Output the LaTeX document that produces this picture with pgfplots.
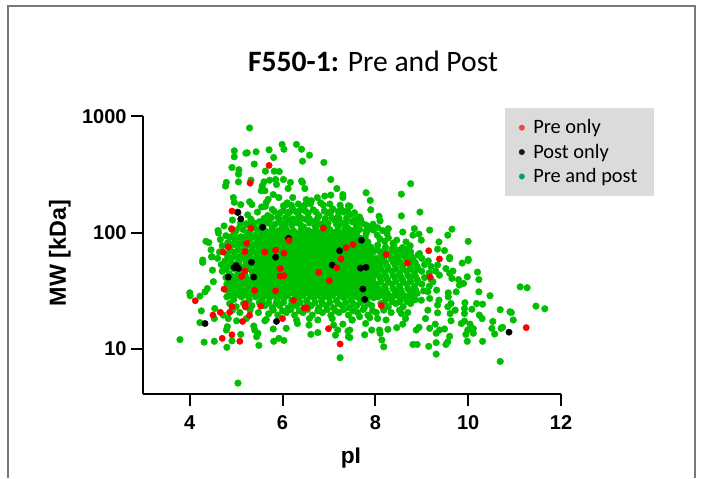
\documentclass[border=0pt]{standalone}
\usepackage{pgfplots}
\pgfplotsset{compat=1.18}
\usepackage{fontspec}
\setmainfont{Liberation Sans}
\newfontfamily\carlito{Carlito}
\definecolor{ptgreen}{RGB}{0,190,0}
\definecolor{ptred}{RGB}{255,0,0}
\definecolor{lgred}{RGB}{240,70,60}
\definecolor{lggreen}{RGB}{0,166,90}
\definecolor{lgbox}{RGB}{219,219,219}
\definecolor{framecol}{RGB}{120,120,120}
\begin{document}
\begin{tikzpicture}
\path[use as bounding box] (0pt,0pt) rectangle (526.5pt,358.5pt);
\draw[framecol,line width=0.9pt] (6pt,0pt) -- (6pt,354pt) -- (521.25pt,354pt) -- (521.25pt,0pt);
\begin{axis}[
  at={(107.475pt,62.775pt)},anchor=south west,
  scale only axis,width=313.3pt,height=208.5pt,
  ymode=log,xmin=3,xmax=12,ymin=4.06,ymax=1000,
  axis x line=bottom,axis y line=left,
  axis line style={-,line width=1.5pt,black},
  xtick={4,6,8,10,12},ytick={10,100,1000},
  yticklabels={10,100,1000},
  log ticks with fixed point,
  tick style={line width=1.5pt,black},
  major tick length=9pt,minor tick length=0pt,
  tick align=outside,
  x tick label style={font=\bfseries\fontsize{15}{17}\selectfont},
  y tick label style={font=\bfseries\fontsize{15}{17}\selectfont},
  /pgf/number format/assume math mode=true,
  xticklabel style={yshift=-3.5pt},
  xlabel={\bfseries\fontsize{17}{19}\selectfont pI},
  ylabel={\bfseries\fontsize{17.5}{19}\selectfont MW [kDa]},
  xlabel style={at={(axis description cs:0.497,-0.229)},anchor=center},
  ylabel style={at={(axis description cs:-0.2,0.508)},anchor=center,rotate=0},
  title={{\carlito\fontsize{22.2}{24}\selectfont\textbf{F550-1:} Pre and Post}},
  title style={at={(axis description cs:0.55,1.17)},anchor=center},
  legend style={at={(axis description cs:0.866,1.03)},anchor=north west,draw=none,fill=lgbox,
    font=\carlito\fontsize{15.3}{18}\selectfont,row sep=2.2pt,inner xsep=10.3pt,inner ysep=6.5pt},
  legend cell align=left,
  clip=false,
]
\addlegendimage{only marks,mark=*,mark size=2.1pt,color=lgred,mark options={line width=0.2pt}}
\addlegendentry{\hspace{4.5pt}Pre only}
\addlegendimage{only marks,mark=*,mark size=2.1pt,color=black!90,mark options={line width=0.2pt}}
\addlegendentry{\hspace{4.5pt}Post only}
\addlegendimage{only marks,mark=*,mark size=2.1pt,color=lggreen,mark options={line width=0.2pt}}
\addlegendentry{\hspace{4.5pt}Pre and post}
% pre and post: sparse outer points
\addplot[forget plot,only marks,mark=*,mark size=2.5pt,color=ptgreen,mark options={line width=0.3pt}] coordinates {
(5.29,794)(5.99,573)(6.03,521)(6.30,573)(6.41,521)(6.58,463)(4.96,505)(4.96,448)(5.21,482)(5.24,485)(5.43,495)(5.71,515)(5.81,442)(6.43,411)(5.39,388)(6.89,401)(4.91,363)(5.06,347)(5.05,318)(5.63,337)(5.82,337)(5.93,335)(7.04,286)(4.79,270)(4.77,251)(5.05,273)(5.32,282)(5.60,273)(5.56,251)(5.72,282)(5.85,286)(6.02,286)(5.87,259)(6.17,270)(6.12,239)(6.41,278)(6.43,270)(6.48,239)(7.17,239)(5.54,229)(5.62,229)(5.80,212)(5.92,200)(6.22,200)(6.91,206)(7.04,210)(7.30,212)(7.30,200)(4.94,200)(4.96,182)(5.10,174)(5.29,184)(5.34,174)(5.69,193)(5.65,182)(5.63,168)(6.51,192)(6.62,188)(6.75,200)(6.49,174)(6.08,174)(6.19,172)(7.27,158)(7.42,170)
(4.35,84)(4.41,82)(4.61,104)(4.46,71)(4.48,62)(4.28,58)
(8.76,263)(8.56,214)(7.80,220)(7.89,189)(7.90,157)(8.96,150)(8.56,139)(8.08,138)(8.10,126)(9.65,107)(9.17,105)(9.56,95)(8.84,108)(8.81,95)(8.94,97)(8.99,86)(8.59,101)(8.66,83)(9.37,83)(9.34,72)(10.0,84)(9.49,70)(7.84,113)(7.66,136)(7.59,116)(8.16,104)(8.25,98)(7.80,98)(8.38,81)(8.45,71)(8.68,72)(8.95,66)(9.6,61)(10.0,59)(7.45,168)
(10.0,57.5)(9.87,54.6)(9.60,59.4)(9.34,52.5)(9.52,49)(9.67,46.6)(9.60,44.5)(10.2,45.7)(9.98,41.6)(10.23,39.4)(9.79,39.4)(9.90,36.5)(9.81,35.3)(9.65,40.3)(9.38,43)(11.12,34.1)(11.27,33.5)(10.23,30.9)(10.47,28.6)(9.74,30.9)(9.57,30.3)(9.57,28)(9.24,37.7)(9.32,32)(9.13,31)(8.99,26.2)(8.82,26.2)(9.17,27.1)(9.37,26.2)(9.34,23.8)(9.93,24.9)(10.18,24.5)(10.31,24.2)(9.92,22.2)(10.08,21.9)(9.92,20.1)(11.46,23.3)(11.65,22.1)(10.69,21.7)(10.9,20.8)(10.93,20.5)(10.24,19.5)(10.3,18.2)(10.97,17.7)(10.53,17.2)(10.74,15.3)(10.71,15)(10.51,15)(10.57,13.4)(10.69,7.78)(10.31,11.6)(10.11,13.6)(10.11,14.9)(9.99,14.5)(9.95,13.3)(9.98,11.6)(9.85,16.5)(9.92,17.3)(10.04,16.3)(9.63,17.4)(9.49,14.8)(9.6,12.8)(9.56,11.5)(9.52,10.9)(9.31,11.3)(9.31,9.0)(9.15,10.5)(8.9,10.9)(8.81,10.9)(9.31,13.6)(9.38,14.5)(9.29,16.3)(9.17,15)(9.08,18.2)(8.94,15.3)(8.88,14.5)(9.13,21.5)(9.34,20.4)(9.61,20.1)(9.56,23)(9.72,21.5)(9.63,24.5)(8.46,15.2)(8.59,16.3)(8.65,18.2)(8.56,20.1)(8.27,14.7)(8.09,14.5)(7.92,14.5)(7.77,13.2)(8.14,11.9)(8.18,10.4)(8.10,13.6)(8.23,17.7)(8.05,18.2)(7.88,18.5)(7.79,16.5)(7.50,17.7)(7.66,18.9)(7.45,14.5)(7.45,12.5)
(3.79,12.0)(5.04,5.07)(4.31,11.4)(4.53,11.6)(4.80,10.3)(4.91,11.7)(5.10,13.3)(5.49,10.7)(5.44,12.7)(5.47,13.6)(5.81,11.6)(5.92,12.3)(6.03,11.8)(4.81,15.5)(4.79,14.5)(5.38,15.7)(5.40,14.5)(5.80,14.8)(6.08,15)(6.61,13.3)(6.76,13.8)(7.14,13.1)(7.41,14.2)(7.42,12.7)(7.24,8.38)(4.22,16.8)(4.25,21.2)(4.0,30.3)(4.01,28.6)(4.22,28.4)(4.33,30.9)(4.38,33)(4.51,37.8)(4.49,47.5)(4.28,55.3)(4.47,61.8)(4.54,22.2)(4.53,18.2)(4.72,19.5)(4.83,18.2)(5.01,17.4)(5.22,18.2)(5.65,17.9)(5.62,17.4)(6.30,17.7)(6.32,16.5)(6.57,16)(6.76,17.7)(6.58,18.2)(7.07,18.2)(7.10,16)(7.30,16.3)(7.50,17.7)(7.19,14.5)
% upper band
(5.55,166)(5.78,158)(6.02,170)(6.22,160)(6.45,168)(6.66,157)(6.88,172)(7.08,160)(7.32,150)(7.55,148)(6.3,150)(5.95,148)
(5.02,150)(5.25,142)(5.46,150)(5.68,140)(5.9,136)(6.12,146)(6.35,138)(6.55,146)(6.78,140)(6.98,148)(7.2,138)(7.45,142)(7.68,130)
(4.92,128)(5.1,122)(5.32,130)(5.5,124)(5.72,120)(5.95,122)(6.15,128)(6.3,122)(6.5,130)(6.7,125)(6.9,122)(7.12,128)(7.3,120)(7.5,124)(7.72,120)(7.95,118)
(4.74,114)(4.9,108)(5.08,112)(5.25,117)(5.4,110)(5.58,114)(5.78,110)(6.0,112)(6.2,115)(6.45,112)(6.7,114)(6.95,110)(7.2,112)(7.4,110)(7.6,108)(7.85,106)(8.05,110)(8.28,108)
(5.0,104)(5.15,106)(5.3,103)(5.46,106)(5.62,104)(5.78,107)(5.92,104)(6.08,106)(6.24,103)(6.4,106)(6.56,104)(6.72,107)(6.86,104)(7.02,106)(7.18,103)(7.34,106)(7.5,104)(7.66,106)(7.8,103)(7.96,105)
(5.22,119)(5.38,121)(5.54,118)(5.68,122)(5.84,118)(6.06,119)(6.24,121)(6.38,118)(6.58,121)(6.8,118)(6.98,120)(7.16,118)(7.36,121)(7.58,118)(7.8,116)
(5.6,132)(5.76,134)(5.92,131)(6.06,134)(6.22,131)(6.4,133)(6.58,131)(6.76,134)(6.92,132)(7.06,134)(7.22,131)(7.38,133)(7.56,130)
(5.82,152)(6.02,155)(6.16,151)(6.38,155)(6.5,152)(6.72,150)(6.9,153)(7.04,150)(7.2,152)(7.4,153)
(6.1,180)(6.34,176)(6.6,177)(6.82,180)(7.02,176)(7.24,172)
% left band
(4.62,99)(4.78,94)(4.95,98)(5.1,92)(5.26,99)(5.42,95)
(4.66,87)(4.82,82)(4.98,86)(5.14,81)(5.3,87)(5.45,83)
(4.7,77)(4.86,73)(5.03,76)(5.18,72)(5.34,76)(5.5,73)
(4.64,68)(4.8,65)(4.96,67)(5.12,64)(5.28,68)(5.44,65)
(4.6,60)(4.76,57)(4.9,60)(5.06,57)(5.22,60)(5.38,58)
(4.68,53)(4.82,51)(4.99,53)(5.14,50)(5.3,53)(5.46,51)
(4.7,46.5)(4.85,44)(5.02,47)(5.18,44.5)(5.34,46.5)(5.5,45)
(4.78,41)(4.94,39)(5.1,41)(5.26,39)(5.42,41)(5.56,39)
(4.8,36)(4.96,34.5)(5.12,36)(5.28,34.5)(5.44,36)(5.58,34.5)
(4.82,31.5)(4.98,30)(5.14,31.5)(5.3,30)(5.46,31.5)
(4.8,28)(4.95,26.5)(5.12,28)(5.28,26.5)(5.42,28)
(4.86,24.5)(5.0,23)(5.16,24.5)(5.34,23.5)(5.5,25)
(4.92,21.5)(5.08,20.5)(5.3,21.5)(5.48,20.5)
(4.87,91)(5.02,90)(5.18,92)(5.34,91)(5.48,90)
(4.92,79)(5.08,80)(5.24,78)(5.4,79)(5.52,80)
(4.88,70)(5.04,71)(5.2,69)(5.36,70)(5.5,68)
(4.84,61)(5.0,62)(5.14,60)(5.3,62)(5.46,60)
(4.9,55)(5.06,54)(5.22,55)(5.38,54)(5.52,56)
(4.78,48.5)(4.94,49)(5.1,47.5)(5.26,49)(5.42,48)
(4.9,42.5)(5.04,43)(5.2,42)(5.36,43)(5.5,42)
(4.86,37.5)(5.02,38)(5.18,37)(5.34,38)(5.5,37.5)
(4.9,33)(5.06,33)(5.22,32.5)(5.38,33)(5.52,32.5)
(4.9,28.5)(5.06,29)(5.22,29)(5.38,29.5)(5.54,28.5)
% bottom band
(5.56,26)(5.72,27.5)(5.88,26)(6.04,27.5)(6.2,26)(6.36,27.5)(6.52,26)(6.68,27.5)(6.84,26)(7.0,27.5)(7.16,26)(7.32,27.5)(7.48,26)(7.64,27.5)(7.8,26)(7.96,27.5)
(5.62,23.5)(5.78,22.5)(5.94,23.5)(6.12,22.5)(6.3,23.5)(6.46,22.5)(6.62,23.5)(6.78,22.5)(6.94,23.5)(7.1,22.5)(7.28,23.5)(7.44,22.5)(7.6,23.5)(7.76,22.5)(7.92,23.5)
(5.7,20)(5.9,19.5)(6.08,20.5)(6.26,19.5)(6.44,20.5)(6.64,19.5)(6.86,20.5)(7.04,19.5)(7.22,20.5)(7.42,19.5)(7.62,20.5)(7.84,19.5)(8.02,20.5)
(5.64,28.5)(5.8,28.8)(5.96,28.4)(6.12,28.8)(6.28,28.4)(6.44,28.8)(6.6,28.4)(6.76,28.8)(6.92,28.4)(7.08,28.8)(7.24,28.4)(7.4,28.8)(7.56,28.4)(7.72,28.8)(7.88,28.4)(8.04,28.8)
(5.7,24.8)(5.86,24.5)(6.02,25)(6.2,24.5)(6.38,25)(6.54,24.5)(6.7,25)(6.86,24.5)(7.02,25)(7.2,24.5)(7.36,25)(7.52,24.5)(7.68,25)(7.84,24.5)
(5.8,21.5)(6.0,21.2)(6.18,21.8)(6.36,21.2)(6.54,21.8)(6.76,21.2)(6.96,21.8)(7.14,21.2)(7.32,21.8)(7.52,21.2)(7.74,21.8)(7.94,21.2)
% right band
(8.05,78)(8.22,75)(8.4,78)(8.58,74)(8.75,77)
(8.1,68)(8.26,66)(8.42,68)(8.58,65)(8.76,68)(8.92,64)
(8.02,60)(8.18,58)(8.34,60)(8.5,58)(8.66,60)(8.82,58)(9.0,60)(9.14,57)
(8.1,53)(8.26,51)(8.42,53)(8.58,51)(8.74,53)(8.9,51)(9.06,53)(9.2,51)
(8.04,46.5)(8.2,45)(8.36,46.5)(8.52,45)(8.68,46.5)(8.84,45)(9.0,46.5)(9.16,45)(9.3,46.5)
(8.1,41)(8.26,39.5)(8.42,41)(8.58,39.5)(8.74,41)(8.9,39.5)(9.06,41)(9.2,39.5)
(8.04,36)(8.2,34.5)(8.36,36)(8.52,34.5)(8.68,36)(8.84,34.5)(9.0,36)(9.16,34.5)
(8.1,31.5)(8.26,30)(8.42,31.5)(8.58,30)(8.74,31.5)(8.9,30)(9.04,31.5)
(8.06,28)(8.22,26.5)(8.38,28)(8.54,26.5)(8.7,28)(8.86,26.5)
(8.12,24.5)(8.28,23)(8.44,24.5)(8.6,23)(8.76,24.5)
(8.18,21.5)(8.34,20.5)(8.52,21.5)(8.7,20.5)
(8.1,88)(8.28,90)(8.46,86)(8.04,95)(8.2,84)
(8.04,72)(8.2,71)(8.36,72)(8.52,70)(8.68,66)(8.14,63)(8.3,64)(8.46,62)(8.62,63)(8.78,62)
(8.06,56)(8.22,55)(8.38,56)(8.54,55)(8.7,56)(8.86,55)
(8.12,49)(8.28,48.5)(8.44,49)(8.6,48.5)(8.76,49)(8.92,48.5)
(8.06,43)(8.22,42.5)(8.38,43)(8.54,42.5)(8.7,43)(8.86,42.5)
(8.12,38)(8.28,37.5)(8.44,38)(8.6,37.5)(8.76,38)(8.92,37.5)
(8.06,33)(8.22,32.5)(8.38,33)(8.54,32.5)(8.7,33)(8.86,32.5)
(8.14,29)(8.3,28.5)(8.46,29)(8.62,28.5)(8.78,29)
(8.2,25.5)(8.36,25.5)(8.52,25.5)(8.68,25.5)
% centre
(5.6,30)(5.72,30.8)(5.84,29.6)(5.96,30.6)(6.08,29.8)(6.2,30.5)(6.32,29.7)(6.44,30.7)(6.56,29.9)(6.68,30.6)(6.8,29.7)(6.92,30.4)(7.04,29.8)(7.16,30.7)(7.28,29.9)(7.4,30.6)(7.52,29.7)(7.64,30.5)(7.76,29.8)(7.88,30.6)(8.0,29.8)
(5.54,33)(5.66,33.4)(5.78,32.7)(5.9,33.5)(6.02,32.9)(6.14,33.3)(6.26,32.8)(6.38,33.5)(6.5,33)(6.62,33.3)(6.74,32.7)(6.86,33.4)(6.98,33)(7.1,33.5)(7.22,32.8)(7.34,33.3)(7.46,33)(7.58,33.4)(7.7,32.9)(7.82,33.3)(7.94,33)
(5.6,36)(5.72,36.6)(5.84,35.7)(5.96,36.5)(6.08,35.9)(6.2,36.4)(6.32,35.8)(6.44,36.6)(6.56,36)(6.68,36.4)(6.8,35.8)(6.92,36.5)(7.04,36)(7.16,36.4)(7.28,35.8)(7.4,36.5)(7.52,36)(7.64,36.4)(7.76,35.8)(7.88,36.5)(8.0,36)
(5.54,39.5)(5.66,40)(5.78,39.2)(5.9,40)(6.02,39.4)(6.14,39.9)(6.26,39.3)(6.38,40)(6.5,39.5)(6.62,39.9)(6.74,39.3)(6.86,40)(6.98,39.5)(7.1,39.9)(7.22,39.3)(7.34,40)(7.46,39.5)(7.58,39.9)(7.7,39.3)(7.82,40)(7.94,39.5)
(5.5,43)(5.62,43.6)(5.74,42.8)(5.86,43.6)(5.98,43)(6.1,43.5)(6.22,42.8)(6.34,43.6)(6.46,43)(6.58,43.5)(6.7,42.8)(6.82,43.6)(6.94,43)(7.06,43.5)(7.18,42.8)(7.3,43.6)(7.42,43)(7.54,43.5)(7.66,42.8)(7.78,43.6)(7.9,43)(8.02,43.5)
(5.56,47.5)(5.68,48)(5.8,47.2)(5.92,48)(6.04,47.4)(6.16,47.9)(6.28,47.2)(6.4,48)(6.52,47.5)(6.64,47.9)(6.76,47.2)(6.88,48)(7.0,47.5)(7.12,47.9)(7.24,47.2)(7.36,48)(7.48,47.5)(7.6,47.9)(7.72,47.2)(7.84,48)(7.96,47.5)
(5.5,52)(5.62,52.6)(5.74,51.7)(5.86,52.6)(5.98,52)(6.1,52.5)(6.22,51.7)(6.34,52.6)(6.46,52)(6.58,52.5)(6.7,51.7)(6.82,52.6)(6.94,52)(7.06,52.5)(7.18,51.7)(7.3,52.6)(7.42,52)(7.54,52.5)(7.66,51.7)(7.78,52.6)(7.9,52)(8.02,52.5)
(5.56,57)(5.68,57.6)(5.8,56.7)(5.92,57.6)(6.04,57)(6.16,57.5)(6.28,56.7)(6.4,57.6)(6.52,57)(6.64,57.5)(6.76,56.7)(6.88,57.6)(7.0,57)(7.12,57.5)(7.24,56.7)(7.36,57.6)(7.48,57)(7.6,57.5)(7.72,56.7)(7.84,57.6)(7.96,57)
(5.5,62.5)(5.62,63.2)(5.74,62.2)(5.86,63.2)(5.98,62.5)(6.1,63)(6.22,62.2)(6.34,63.2)(6.46,62.5)(6.58,63)(6.7,62.2)(6.82,63.2)(6.94,62.5)(7.06,63)(7.18,62.2)(7.3,63.2)(7.42,62.5)(7.54,63)(7.66,62.2)(7.78,63.2)(7.9,62.5)
(5.56,68.5)(5.68,69.2)(5.8,68.2)(5.92,69.2)(6.04,68.5)(6.16,69)(6.28,68.2)(6.4,69.2)(6.52,68.5)(6.64,69)(6.76,68.2)(6.88,69.2)(7.0,68.5)(7.12,69)(7.24,68.2)(7.36,69.2)(7.48,68.5)(7.6,69)(7.72,68.2)(7.84,69.2)(7.96,68.5)
(5.5,75)(5.62,75.8)(5.74,74.6)(5.86,75.8)(5.98,75)(6.1,75.6)(6.22,74.6)(6.34,75.8)(6.46,75)(6.58,75.6)(6.7,74.6)(6.82,75.8)(6.94,75)(7.06,75.6)(7.18,74.6)(7.3,75.8)(7.42,75)(7.54,75.6)(7.66,74.6)(7.78,75.8)(7.9,75)
(5.56,82)(5.68,82.8)(5.8,81.6)(5.92,82.8)(6.04,82)(6.16,82.6)(6.28,81.6)(6.4,82.8)(6.52,82)(6.64,82.6)(6.76,81.6)(6.88,82.8)(7.0,82)(7.12,82.6)(7.24,81.6)(7.36,82.8)(7.48,82)(7.6,82.6)(7.72,81.6)(7.84,82.8)
(5.5,90)(5.62,90.8)(5.74,89.6)(5.86,90.8)(5.98,90)(6.1,90.6)(6.22,89.6)(6.34,90.8)(6.46,90)(6.58,90.6)(6.7,89.6)(6.82,90.8)(6.94,90)(7.06,90.6)(7.18,89.6)(7.3,90.8)(7.42,90)(7.54,90.6)(7.66,89.6)(7.78,90.8)
(5.56,99)(5.68,100)(5.8,98.5)(5.92,100)(6.04,99)(6.16,99.6)(6.28,98.5)(6.4,100)(6.52,99)(6.64,99.6)(6.76,98.5)(6.88,100)(7.0,99)(7.12,99.6)(7.24,98.5)(7.36,100)(7.48,99)(7.6,99.6)
};
% post only
\addplot[forget plot,only marks,mark=*,mark size=2.4pt,color=black,mark options={line width=0.3pt}] coordinates {
(5.04,149)(5.10,131)(5.57,111)(6.13,89)(7.70,86)(7.23,69.8)(5.85,61.4)(5.33,55.6)(5.00,51.9)(4.96,50.1)(5.05,49.1)(7.07,52.5)(7.68,49.4)(7.80,50.2)(4.83,41.4)(5.38,41.4)(7.73,32.7)(7.77,26.6)(5.87,17.2)(4.33,16.5)(10.88,13.9)
};
% pre only
\addplot[forget plot,only marks,mark=*,mark size=2.4pt,color=ptred,mark options={line width=0.3pt}] coordinates {
(5.71,378)(5.30,266)(4.91,153)(4.91,107)(5.32,109)(6.88,109)(5.23,81)(4.83,75)(4.72,68)(5.19,68.5)(5.62,68)(5.85,70.6)(6.03,66.5)(6.14,85.5)(7.37,74)(7.52,79)(8.23,64.6)(9.15,69.7)(9.38,59.3)(8.69,54.6)(7.17,49.7)(7.26,59.3)(5.95,49)(5.19,46.6)(5.12,41.8)(5.95,42.2)(6.03,42.5)(6.78,45.4)(7.01,38.4)(9.18,41.4)(4.74,32.6)(5.40,31.8)(5.85,31.5)(4.12,25.9)(6.24,26.1)(4.91,23.1)(5.20,24.4)(5.20,22.9)(5.53,23.3)(6.52,22.5)(6.47,22.4)(8.13,23.5)(4.66,20.6)(4.86,20.6)(4.50,19.5)(5.29,19.4)(5.14,17.2)(6.00,18.2)(6.99,14.9)(4.91,13.2)(4.70,12.3)(5.08,11.6)(7.24,11.0)(11.25,15.2)
};
\end{axis}
\end{tikzpicture}
\end{document}
